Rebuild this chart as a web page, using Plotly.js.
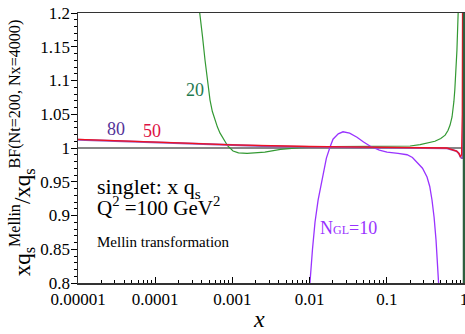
<!DOCTYPE html>
<html>
<head>
<meta charset="utf-8">
<script src="https://cdn.plot.ly/plotly-3.0.1.min.js"></script>
<style>html,body{margin:0;padding:0;background:#fff;}#chart{width:465px;height:334px;}</style>
</head>
<body>
<div id="chart"></div>
<script>
// Reference line (ratio = 1)
const refX = [0.00001, 1];
const refY = [1, 1];

// N_GL = 80
const x80 = [0.00001, 0.00003, 0.0001, 0.0003, 0.001, 0.003, 0.01, 0.03, 0.1, 0.3, 0.6, 0.8, 0.86, 0.9, 0.93, 0.96, 0.97, 0.975];
const y80 = [1.0122, 1.0102, 1.0087, 1.0062, 1.0038, 1.0026, 1.0016, 1.001, 1.0006, 1.0003, 0.9993, 0.9953, 0.9918, 0.9868, 0.985, 0.985, 1.0, 1.11];

// N_GL = 50
const x50 = [0.00001, 0.00003, 0.0001, 0.0003, 0.001, 0.003, 0.01, 0.03, 0.1, 0.3, 0.6, 0.8, 0.86, 0.9, 0.93, 0.95, 0.96];
const y50 = [1.0128, 1.011, 1.0095, 1.007, 1.0045, 1.0032, 1.0022, 1.0018, 1.0015, 1.001, 1.0, 0.9955, 0.992, 0.987, 0.99, 1.05, 1.25];

// N_GL = 20
const x20 = [0.00036, 0.00038, 0.00041, 0.000442, 0.00048, 0.000513, 0.00055, 0.000596, 0.00064, 0.000692, 0.00078, 0.00087, 0.00102, 0.0012, 0.00155, 0.002, 0.00263, 0.0042, 0.0076, 0.02, 0.1, 0.2, 0.27, 0.35, 0.42, 0.5, 0.57, 0.62, 0.66, 0.7, 0.72, 0.74, 0.76, 0.785, 0.81, 0.84, 0.85];
const y20 = [1.22, 1.2, 1.165, 1.13, 1.097, 1.071, 1.054, 1.041, 1.031, 1.022, 1.011, 1.003, 0.9956, 0.9928, 0.992, 0.9925, 0.994, 0.998, 1.0005, 1.002, 1.0025, 1.003, 1.005, 1.0075, 1.01, 1.014, 1.019, 1.026, 1.034, 1.046, 1.056, 1.069, 1.086, 1.11, 1.145, 1.2, 1.23];

// N_GL = 10
const x10 = [0.00955, 0.0101, 0.0109, 0.01175, 0.0129, 0.01445, 0.0149, 0.0165, 0.0184, 0.0201, 0.0235, 0.0271, 0.033, 0.0411, 0.05, 0.0605, 0.08, 0.1007, 0.14, 0.183, 0.215, 0.246, 0.29, 0.332, 0.36, 0.385, 0.41, 0.434, 0.455, 0.474, 0.48];
const y10 = [0.78, 0.8, 0.85, 0.89, 0.923, 0.953, 0.962, 0.985, 1.0015, 1.013, 1.021, 1.024, 1.022, 1.016, 1.009, 1.003, 0.997, 0.994, 0.992, 0.99, 0.986, 0.979, 0.97, 0.957, 0.943, 0.923, 0.897, 0.864, 0.833, 0.8, 0.78];

// Axis ticks
const xTickVals = [0.00001, 0.0001, 0.001, 0.01, 0.1, 1];
const xTickText = ["0.00001", "0.0001", "0.001", "0.01", "0.1", "1"];
const yTickVals = [0.8, 0.85, 0.9, 0.95, 1, 1.05, 1.1, 1.15, 1.2];
const yTickText = ["0.8", "0.85", "0.9", "0.95", "1", "1.05", "1.1", "1.15", "1.2"];

const serif = "Liberation Serif";

const traces = [
  {x: refX, y: refY, mode: 'lines', line: {color: '#111111', width: 1.2}, hoverinfo: 'skip'},
  {x: x20, y: y20, mode: 'lines', line: {color: '#339933', width: 1.2}},
  {x: x10, y: y10, mode: 'lines', line: {color: '#9933FF', width: 1.3}},
  {x: x80, y: y80, mode: 'lines', line: {color: '#9955BB', width: 1.8}},
  {x: x50, y: y50, mode: 'lines', line: {color: '#EE1122', width: 1.3}}
];

const layout = {
  width: 465, height: 334,
  margin: {l: 78, r: 1, t: 13, b: 51},
  paper_bgcolor: '#ffffff', plot_bgcolor: '#ffffff',
  showlegend: false,
  font: {family: serif, color: '#000', size: 17},
  xaxis: {
    type: 'log', range: [-5, 0],
    tickvals: xTickVals, ticktext: xTickText,
    ticks: 'inside', ticklen: 6, tickwidth: 1, tickcolor: '#000',
    minor: {ticks: 'inside', ticklen: 3, tickcolor: '#000', dtick: 'D1'},
    showline: true, linecolor: '#333', linewidth: 1.5, mirror: true,
    showgrid: false, zeroline: false, ticklabeloverflow: 'allow',
    tickfont: {family: serif, size: 17, color: '#000'}
  },
  yaxis: {
    range: [0.8, 1.2],
    tickvals: yTickVals, ticktext: yTickText,
    ticks: 'outside', ticklen: 6, tickwidth: 1, tickcolor: '#000',
    minor: {ticks: 'outside', ticklen: 3, tickcolor: '#000', dtick: 0.01},
    showline: true, linecolor: '#333', linewidth: 1.5, mirror: true,
    showgrid: false, zeroline: false, ticklabelstandoff: -3,
    tickfont: {family: serif, size: 17, color: '#000'},
    title: {text: 'xq<sub>s</sub><sup style="font-size:12px">Mellin</sup>/xq<sub>s</sub><sup style="font-size:12px">BF(Nt=200, Nx=4000)</sup>', font: {family: serif, size: 23, color: '#000'}, standoff: 3}
  },
  shapes: [
    {type: 'line', xref: 'paper', yref: 'paper', x0: 1, x1: 1, y0: 0, y1: 1, line: {color: '#2F5F3F', width: 2.5}}
  ],
  annotations: [
    {xref: 'paper', yref: 'paper', x: 0.469, y: -0.133, xanchor: 'center', yanchor: 'middle', text: '<i>x</i>', showarrow: false, font: {family: serif, size: 24, color: '#000'}},
    {xref: 'paper', yref: 'paper', x: 0.098, y: 0.570, xanchor: 'center', yanchor: 'middle', text: '80', showarrow: false, font: {family: serif, size: 18, color: '#553399'}},
    {xref: 'paper', yref: 'paper', x: 0.193, y: 0.563, xanchor: 'center', yanchor: 'middle', text: '50', showarrow: false, font: {family: serif, size: 18, color: '#DD1144'}},
    {xref: 'paper', yref: 'paper', x: 0.303, y: 0.715, xanchor: 'center', yanchor: 'middle', text: '20', showarrow: false, font: {family: serif, size: 18, color: '#1F7A4F'}},
    {xref: 'paper', yref: 'paper', x: 0.622, y: 0.204, xanchor: 'left', yanchor: 'middle', text: 'N<span style="font-size:12px">GL</span>=10', showarrow: false, font: {family: serif, size: 18, color: '#9933FF'}},
    {xref: 'paper', yref: 'paper', x: 0.044, y: 0.352, xanchor: 'left', yanchor: 'middle', text: 'singlet: x q<sub>s</sub>', showarrow: false, font: {family: serif, size: 22, color: '#000'}},
    {xref: 'paper', yref: 'paper', x: 0.044, y: 0.225, xanchor: 'left', yanchor: 'bottom', text: 'Q<sup>2</sup> =100 GeV<sup>2</sup>', showarrow: false, font: {family: serif, size: 21, color: '#000'}},
    {xref: 'paper', yref: 'paper', x: 0.044, y: 0.113, xanchor: 'left', yanchor: 'bottom', text: 'Mellin transformation', showarrow: false, font: {family: serif, size: 15, color: '#000'}}
  ]
};

Plotly.newPlot('chart', traces, layout, {displayModeBar: false, staticPlot: true});
</script>
</body>
</html>
